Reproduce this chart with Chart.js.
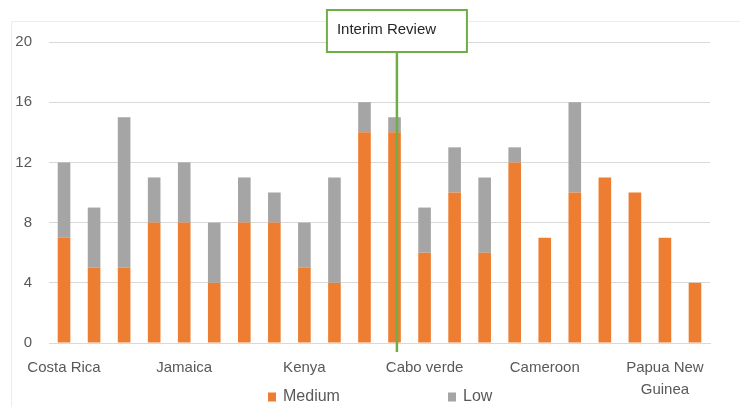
<!DOCTYPE html>
<html>
<head>
<meta charset="utf-8">
<script src="https://cdn.jsdelivr.net/npm/chart.js@4/dist/chart.umd.min.js"></script>
<style>
  html, body { margin: 0; padding: 0; background: #ffffff; }
  #wrap { width: 740px; height: 407px; position: relative; }
</style>
</head>
<body>
<div id="wrap"><canvas id="chart" width="740" height="407"></canvas></div>
<script>
// Projects grouped by country; the country name sits under the first project of each group
const categories = [
  'Costa Rica', '', '', '',
  'Jamaica', '', '', '',
  'Kenya', '', '', '',
  'Cabo verde', '', '', '',
  'Cameroon', '', '', '',
  ['Papua New', 'Guinea'], ''
];

const mediumValues = [7, 5, 5, 8, 8, 4, 8, 8, 5, 4, 14, 14, 6, 10, 6, 12, 7, 10, 11, 10, 7, 4];
const lowValues    = [5, 4, 10, 3, 4, 4, 3, 2, 3, 7, 2, 1, 3, 3, 5, 1, 0, 6, 0, 0, 0, 0];

const yTicks = [0, 4, 8, 12, 16, 20];

// Position of the interim review marker, in category units
const interimReviewAt = 11.08;
const interimReviewText = 'Interim Review';

const FONT = '"Liberation Sans", Arial, sans-serif';
const TEXT_COLOR = '#595959';
const GRID_COLOR = '#d9d9d9';
const ORANGE = '#ED7D31';
const GRAY = '#A5A5A5';
const GREEN = '#70AD47';

// Faint outer frame of the chart object
const framePlugin = {
  id: 'frame',
  beforeDraw(chart) {
    const ctx = chart.ctx;
    ctx.save();
    ctx.fillStyle = '#ffffff';
    ctx.fillRect(0, 0, chart.width, chart.height);
    ctx.strokeStyle = '#ececec';
    ctx.lineWidth = 1;
    ctx.beginPath();
    ctx.moveTo(11.5, chart.height);
    ctx.lineTo(11.5, 21.5);
    ctx.lineTo(chart.width, 21.5);
    ctx.stroke();
    ctx.restore();
  }
};

// Vertical marker with a callout box
const interimPlugin = {
  id: 'interim',
  afterDatasetsDraw(chart) {
    const ctx = chart.ctx;
    const x = chart.scales.x.getPixelForValue(interimReviewAt);
    const boxW = 140, boxTop = 10, boxH = 42;
    ctx.save();
    ctx.strokeStyle = GREEN;
    ctx.lineWidth = 2.5;
    ctx.beginPath();
    ctx.moveTo(x, boxTop + boxH);
    ctx.lineTo(x, chart.chartArea.bottom + 9);
    ctx.stroke();
    ctx.fillStyle = '#ffffff';
    ctx.fillRect(x - boxW / 2, boxTop, boxW, boxH);
    ctx.lineWidth = 2;
    ctx.strokeRect(x - boxW / 2, boxTop, boxW, boxH);
    ctx.fillStyle = '#262626';
    ctx.font = '15px ' + FONT;
    ctx.textAlign = 'left';
    ctx.textBaseline = 'middle';
    ctx.fillText(interimReviewText, x - boxW / 2 + 10, boxTop + 20);
    ctx.restore();
  }
};

// Legend laid out with wide spacing between entries
const legendPlugin = {
  id: 'wideLegend',
  afterDraw(chart) {
    const ctx = chart.ctx;
    const starts = [268, 448];
    const cy = 397;
    ctx.save();
    ctx.font = '16px ' + FONT;
    ctx.textBaseline = 'middle';
    ctx.textAlign = 'left';
    chart.data.datasets.forEach((ds, i) => {
      const x = starts[i];
      ctx.fillStyle = ds.backgroundColor;
      ctx.fillRect(x, cy - 4.5, 8, 9);
      ctx.fillStyle = TEXT_COLOR;
      ctx.fillText(ds.label, x + 15, cy);
    });
    ctx.restore();
  }
};

new Chart(document.getElementById('chart'), {
  type: 'bar',
  data: {
    labels: categories,
    datasets: [
      { label: 'Medium', data: mediumValues, backgroundColor: ORANGE, borderWidth: 0 },
      { label: 'Low', data: lowValues, backgroundColor: GRAY, borderWidth: 0 }
    ]
  },
  options: {
    responsive: false,
    animation: false,
    devicePixelRatio: 1,
    datasets: { bar: { categoryPercentage: 1.0, barPercentage: 0.42 } },
    layout: { padding: { left: 0, right: 30, top: 42, bottom: 0 } },
    plugins: {
      legend: { display: false },
      tooltip: { enabled: false },
      title: { display: false }
    },
    scales: {
      x: {
        stacked: true,
        grid: { display: false, drawTicks: false },
        border: { display: true, color: GRID_COLOR },
        ticks: {
          autoSkip: false,
          maxRotation: 0,
          minRotation: 0,
          padding: 14,
          color: TEXT_COLOR,
          font: { family: FONT, size: 15, lineHeight: 1.45 }
        },
        afterFit(scale) { scale.height = 64; }
      },
      y: {
        stacked: true,
        min: 0,
        max: 20,
        afterBuildTicks(scale) { scale.ticks = yTicks.map(v => ({ value: v })); },
        grid: { color: GRID_COLOR, drawTicks: false },
        border: { display: false },
        ticks: {
          padding: 17,
          color: TEXT_COLOR,
          font: { family: FONT, size: 15 }
        },
        afterFit(scale) { scale.width = 49; }
      }
    }
  },
  plugins: [framePlugin, interimPlugin, legendPlugin]
});
</script>
</body>
</html>
